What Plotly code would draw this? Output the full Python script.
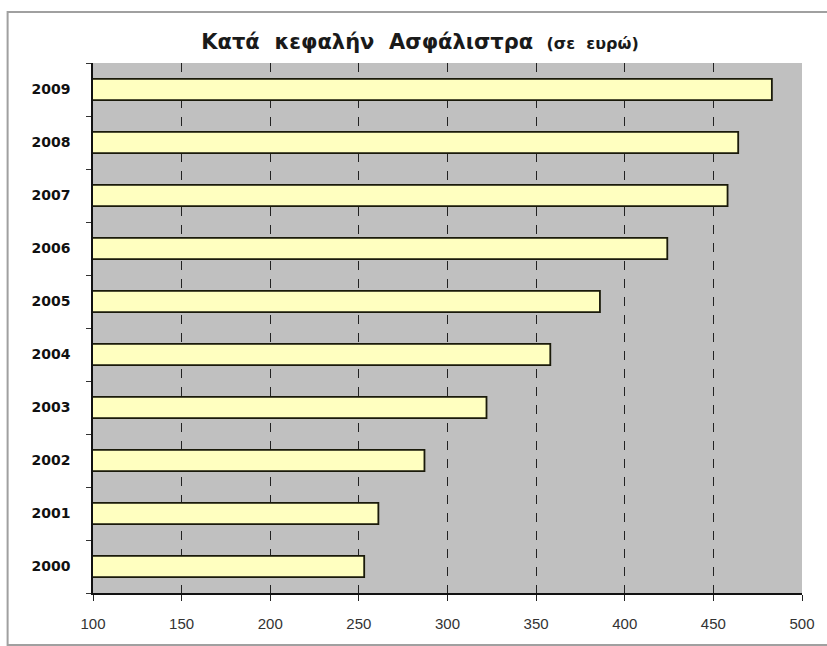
import plotly.graph_objects as go

years = ["2000", "2001", "2002", "2003", "2004", "2005", "2006", "2007", "2008", "2009"]
premiums = [253, 261, 287, 322, 358, 386, 424, 458, 464, 483]
x_ticks = [100, 150, 200, 250, 300, 350, 400, 450, 500]

fig = go.Figure(go.Bar(
    y=years, x=premiums, orientation="h",
    marker=dict(color="#FFFFC0", line=dict(color="#1a1a0a", width=1.8)),
    width=0.4,
))

fig.update_layout(
    width=827, height=646,
    margin=dict(l=93, r=20, t=63, b=53),
    paper_bgcolor="white", plot_bgcolor="#C0C0C0",
    showlegend=False,
    title=dict(
        text="<b>Κατά  κεφαλήν  Ασφάλιστρα</b>  <b><span style='font-size:16px'>(σε  ευρώ)</span></b>",
        x=420 / 827, xref="container", xanchor="center",
        y=1 - 42 / 646, yref="container", yanchor="middle",
        font=dict(family="DejaVu Sans", size=21, color="#1a1a1a"),
    ),
    bargap=0.6,
)

fig.update_xaxes(
    range=[100, 500], tickvals=x_ticks, ticks="outside", ticklen=6, tickcolor="#222",
    showgrid=True, gridcolor="#222222", griddash="dash", gridwidth=1,
    showline=True, linecolor="#111111", linewidth=1.5, zeroline=False,
    tickfont=dict(family="Liberation Sans, Arial", size=15, color="#333333"),
    ticklabelstandoff=10,
)
fig.update_yaxes(
    type="category", categoryorder="array", categoryarray=years,
    ticks="outside", tickson="boundaries", ticklen=5, tickcolor="#333",
    showline=True, linecolor="#111111", linewidth=1.5, showgrid=False,
    tickfont=dict(family="DejaVu Sans", size=14, color="#111111", weight="bold"),
    ticklabelstandoff=18,
)

fig.add_shape(type="rect", xref="paper", yref="paper",
              x0=-86/714, x1=1+40/714, y0=-52/530, y1=1+51/530,
              line=dict(color="#a0a0a0", width=2), layer="below")

fig.write_html("out.html")
